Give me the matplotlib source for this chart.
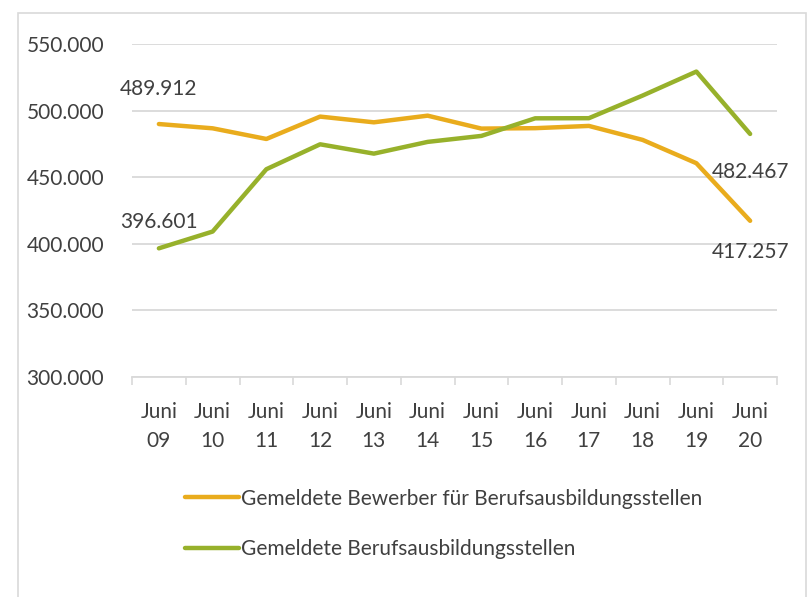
import matplotlib.pyplot as plt
from matplotlib.patches import Rectangle

# Daten
monate = ["Juni\n09", "Juni\n10", "Juni\n11", "Juni\n12", "Juni\n13", "Juni\n14",
          "Juni\n15", "Juni\n16", "Juni\n17", "Juni\n18", "Juni\n19", "Juni\n20"]
bewerber = [489912, 486700, 478700, 495500, 491200, 496200,
            486500, 486800, 488500, 478000, 460500, 417257]
stellen = [396601, 409200, 456000, 474700, 467700, 476500,
           481000, 494200, 494300, 511300, 529300, 482467]
name_bewerber = "Gemeldete Bewerber für Berufsausbildungsstellen"
name_stellen = "Gemeldete Berufsausbildungsstellen"

orange = "#E9AC1D"
gruen = "#97B12B"
textfarbe = "#404040"

plt.rcParams["font.family"] = ["Lato", "DejaVu Sans"]
plt.rcParams["font.size"] = 15

fig = plt.figure(figsize=(8.1, 5.97), dpi=100)
fig.patches.append(Rectangle((18 / 810, -0.01), 788 / 810, 1 - 13 / 597 + 0.01,
                             transform=fig.transFigure, fill=False,
                             edgecolor="#d9d9d9", linewidth=1.2))

ax = fig.add_axes([132 / 810, 1 - 377 / 597, 645 / 810, 333 / 597])
x = range(len(monate))
l1, = ax.plot(x, bewerber, color=orange, lw=3.2, solid_capstyle="round", label=name_bewerber)
l2, = ax.plot(x, stellen, color=gruen, lw=3.2, solid_capstyle="round", label=name_stellen)

ax.set_ylim(300000, 550000)
ax.set_xlim(-0.5, len(monate) - 0.5)
ax.set_yticks(range(300000, 550001, 50000))
ax.set_yticklabels([f"{v // 1000}.000" for v in range(300000, 550001, 50000)], color=textfarbe)
ax.yaxis.grid(True, color="#d9d9d9", lw=1.3)
ax.set_axisbelow(True)
ax.tick_params(axis="y", length=0, pad=20)

ax.set_xticks(list(x))
ax.set_xticklabels(monate, color=textfarbe, linespacing=1.55)
ax.set_xticks([i - 0.5 for i in range(len(monate) + 1)], minor=True)
ax.tick_params(axis="x", which="major", length=0, pad=18)
ax.tick_params(axis="x", which="minor", length=6, color="#d9d9d9", width=1.2)

for s in ["top", "right", "left"]:
    ax.spines[s].set_visible(False)
ax.spines["bottom"].set_color("#d9d9d9")
ax.spines["bottom"].set_linewidth(1.3)

# Datenbeschriftungen
def fmt(v):
    return f"{v // 1000}.{v % 1000:03d}"

ax.annotate(fmt(bewerber[0]), (0, bewerber[0]), xytext=(0, 18), textcoords="offset points",
            ha="center", va="bottom", color=textfarbe)
ax.annotate(fmt(stellen[0]), (0, stellen[0]), xytext=(0, 12), textcoords="offset points",
            ha="center", va="bottom", color=textfarbe)
ax.annotate(fmt(stellen[-1]), (11, stellen[-1]), xytext=(0, -20), textcoords="offset points",
            ha="center", va="top", color=textfarbe)
ax.annotate(fmt(bewerber[-1]), (11, bewerber[-1]), xytext=(0, -15), textcoords="offset points",
            ha="center", va="top", color=textfarbe)

fig.legend(handles=[l1, l2], loc="upper left", bbox_to_anchor=(166 / 810, 1 - 470 / 597),
           frameon=False, handlelength=2.6, handletextpad=0.1, labelspacing=1.45,
           labelcolor=textfarbe, fontsize=15)

fig.savefig("out.png", dpi=100)
